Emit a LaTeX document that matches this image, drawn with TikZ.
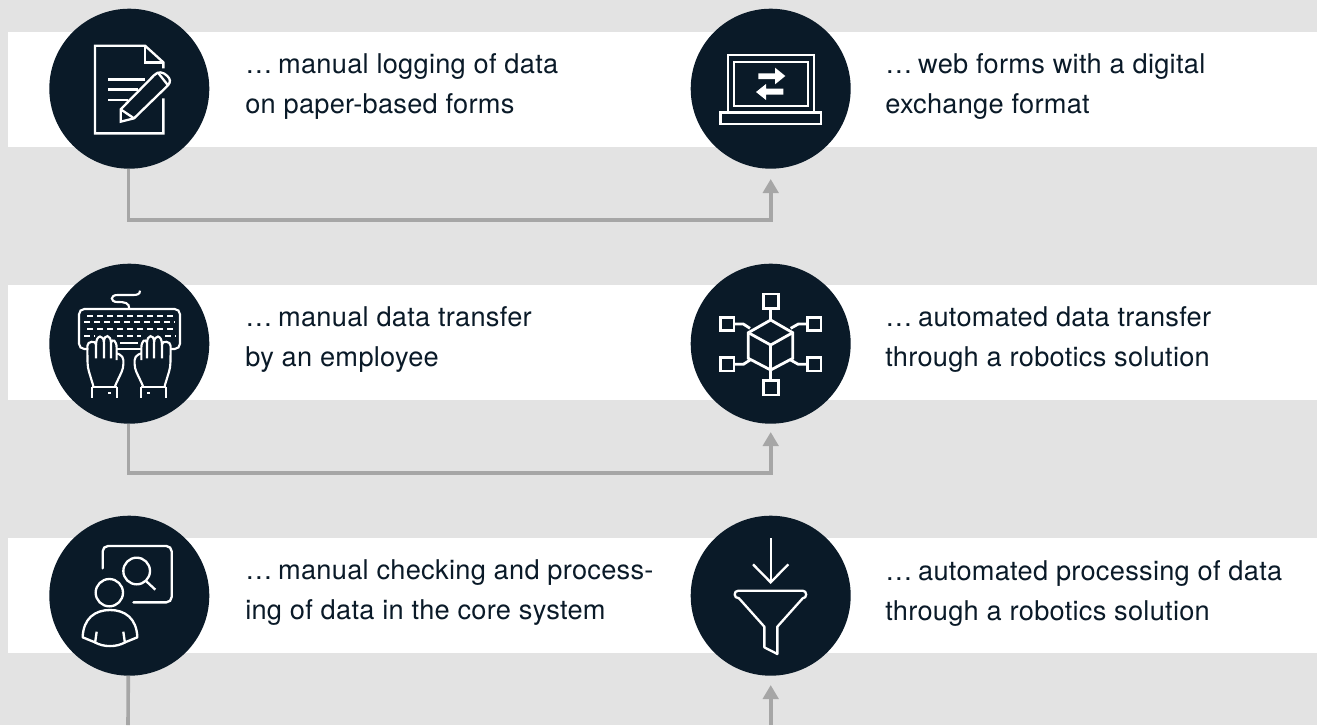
\documentclass[tikz,border=0pt]{standalone}
\usepackage{fontspec}
\setmainfont[LetterSpace=1]{TeX Gyre Heros}
\definecolor{ink}{HTML}{0A1A28}
\definecolor{bgray}{HTML}{E3E3E3}
\definecolor{cgray}{HTML}{A6A6A6}
\usetikzlibrary{arrows.meta}
\newcommand{\lead}{…\kern-1.6pt\ }
\tikzset{
  disc/.style={circle,fill=ink,draw=none,minimum size=120pt,inner sep=0pt},
  label/.style={anchor=west,align=left,text=ink,inner sep=0pt,font=\fontsize{20.4pt}{30pt}\selectfont},
  conn/.style={draw=cgray,line width=2.7pt},
  connarrow/.style={conn,-{Triangle[length=10.5pt,width=11.5pt]}},
  ico/.style={draw=white,line width=1.75pt,fill=none,line join=miter},
  cube/.style={draw=white,line width=2.1pt,fill=none,line join=miter},
  kbd/.style={draw=white,line width=1.6pt,fill=none},
  keys/.style={draw=white,line width=1.6pt,dash pattern=on 4.5pt off 3pt},
  izoom/.style={x=0.25pt,y=-0.25pt}
}
\newcommand{\handshape}{%
  \draw[kbd,rounded corners=3pt] (190,378) -- (173,322) -- (172,270) .. controls (172,242) and (198,242) .. (198,265) -- (198,295);
  \draw[kbd] (198,255) .. controls (198,222) and (222,222) .. (222,250) -- (222,295);
  \draw[kbd] (222,245) .. controls (222,222) and (243,222) .. (243,250) -- (243,295);
  \draw[kbd] (243,248) .. controls (247,235) and (260,240) .. (260,265) -- (260,300);
  \draw[kbd,rounded corners=3pt] (260,280) -- (280,288) -- (280,325) -- (255,378);
  \draw[kbd] (186,380) -- (262,380);
  \draw[kbd] (186,380) -- (186,413);
  \draw[kbd] (262,380) -- (262,413);
  \fill[white] (233,396) rectangle (242,403);
}
\begin{document}
\begin{tikzpicture}[x=0.75pt,y=-0.75pt]
\useasboundingbox (0,0) rectangle (1317,725);
\fill[bgray] (0,0) rectangle (1317,725);
\fill[white] (8,32) rectangle (1317,147);
\fill[white] (8,285) rectangle (1317,400);
\fill[white] (8,538) rectangle (1317,652.5);

\coordinate (h1) at (129,220);
\coordinate (h2) at (129,473);
\coordinate (tip1) at (770.7,179);
\coordinate (tip2) at (770.7,432);
\coordinate (tip3) at (770.7,685);
\coordinate (e3) at (128,725);
\coordinate (e4) at (770.7,725);

\node[disc] (a1) at (129.3,88.7) {};
\node[disc] (b1) at (770.7,88.7) {};
\node[disc] (a2) at (129.3,343.7) {};
\node[disc] (b2) at (770.7,343.7) {};
\node[disc] (a3) at (129.3,595.7) {};
\node[disc] (b3) at (770.7,595.7) {};

\draw[connarrow] ([xshift=-0.75pt]a1.south) |- (h1) -| (tip1);
\draw[connarrow] ([xshift=-0.75pt]a2.south) |- (h2) -| (tip2);
\draw[conn] ([xshift=-0.75pt]a3.south) -- (e3);
\draw[connarrow] (e4) -- (tip3);

\node[label] (t1) at (245,87) {\lead manual logging of data\\on paper-based forms};
\node[label] (t2) at (885,87) {\lead web forms with a digital\\exchange format};
\node[label] (t3) at (245,340) {\lead manual data transfer\\by an employee};
\node[label] (t4) at (885,340) {\lead automated data transfer\\through a robotics solution};
\node[label] (t5) at (245,593) {\lead manual checking and process-\\ing of data in the core system};
\node[label] (t6) at (885,593) {\lead automated processing of data\\through a robotics solution};

% document icon
\begin{scope}[shift={(30,0)},izoom]
\draw[ico] (400,295) -- (400,400) -- (195,400) -- (195,137) -- (345,137) -- (400,187) -- (400,205);
\draw[ico] (345,137) -- (345,187) -- (400,187);
\draw[ico] (235,238) -- (345,238);
\draw[ico] (235,268) -- (325,268);
\draw[ico] (235,300) -- (295,300);
\draw[ico] (272,365) -- (272,328) -- (372,226) .. controls (385,212) and (400,216) .. (412,228) .. controls (422,238) and (422,246) .. (414,256) -- (312,355) -- cycle;
\draw[ico] (272,328) -- (312,355);
\draw[ico] (384,218) -- (414,256);
\end{scope}

% laptop icon
\begin{scope}[shift={(670,0)},izoom]
\draw[ico] (173,335) -- (173,165) -- (431,165) -- (431,335);
\draw[ico] (191,186) rectangle (413,317);
\draw[ico] (151,337) rectangle (453,371);
\fill[white] (265,220) -- (315,220) -- (315,203) -- (346,228) -- (315,253) -- (315,237) -- (265,237) -- cycle;
\fill[white] (340,266) -- (288,266) -- (288,252) -- (258,276) -- (288,300) -- (288,284) -- (340,284) -- cycle;
\end{scope}

% keyboard icon
\begin{scope}[shift={(30,260)},izoom]
\draw[kbd,rounded corners=4pt] (175,267) -- (147,267) -- (147,147) -- (450,147) -- (450,267) -- (420,267);
\draw[kbd] (298,147) .. controls (298,128) and (285,126) .. (262,126) .. controls (240,126) and (240,105) .. (262,105) -- (310,105) .. controls (322,105) and (330,102) .. (330,92);
\draw[kbd] (260,267) -- (335,267);
\draw[kbd] (270,248) -- (325,248);
\foreach \yy/\xa/\xb in {167/172/428,187/162/436,207/172/428}{
  \draw[keys] (\xa,\yy) -- (\xb,\yy);
}
\draw[keys] (162,227) -- (195,227);
\draw[keys] (262,227) -- (332,227);
\draw[keys] (405,227) -- (436,227);
\handshape
\begin{scope}[shift={(594,0)},xscale=-1]
\handshape
\end{scope}
\end{scope}

% cube network icon
\begin{scope}[shift={(670,260)},izoom]
\draw[cube] (302,180) -- (368,218) -- (368,295) -- (302,330) -- (235,295) -- (235,218) -- cycle;
\draw[cube] (235,218) -- (302,255) -- (368,218);
\draw[cube] (302,255) -- (302,330);
\draw[cube] (280,102) rectangle (325,145);
\draw[cube] (280,362) rectangle (325,405);
\draw[cube] (152,172) rectangle (192,212);
\draw[cube] (413,172) rectangle (453,212);
\draw[cube] (152,293) rectangle (192,333);
\draw[cube] (413,293) rectangle (453,333);
\draw[cube] (302,145) -- (302,180);
\draw[cube] (302,330) -- (302,362);
\draw[cube] (192,192) -- (220,192) -- (240,205);
\draw[cube] (413,192) -- (385,192) -- (362,205);
\draw[cube] (192,313) -- (220,313) -- (240,300);
\draw[cube] (413,313) -- (385,313) -- (362,300);
\end{scope}

% person icon
\begin{scope}[shift={(30,515)},izoom]
\draw[ico,rounded corners=4pt,line cap=round] (218,160) -- (218,93) -- (425,93) -- (425,262) -- (310,262);
\draw[ico] (320,168) circle[radius=40];
\draw[ico] (348,198) -- (376,224);
\draw[ico] (238,233) circle[radius=41];
\draw[ico,line join=round] (195,382) -- (158,367) .. controls (160,310) and (195,285) .. (240,285) .. controls (285,285) and (320,310) .. (322,367) -- (285,382) .. controls (260,397) and (220,397) .. (195,382);
\draw[ico] (200,350) -- (195,385);
\draw[ico] (280,350) -- (285,385);
\end{scope}

% funnel icon
\begin{scope}[shift={(670,515)},izoom]
\draw[ico] (302,70) -- (302,202);
\draw[ico] (249,148) -- (302,202) -- (355,148);
\draw[ico,line join=round] (205,227) -- (398,227) .. controls (412,227) and (412,250) .. (398,250) -- (322,335) -- (322,417) -- (283,397) -- (283,335) -- (207,250) .. controls (190,250) and (190,227) .. (205,227) -- cycle;
\end{scope}
\end{tikzpicture}
\end{document}
